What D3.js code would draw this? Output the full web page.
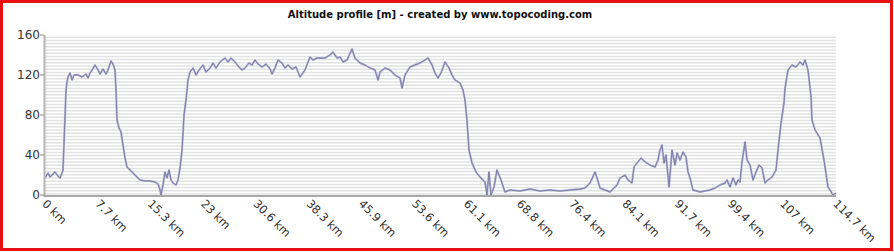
<!DOCTYPE html>
<html>
<head>
<meta charset="utf-8">
<script src="https://cdn.jsdelivr.net/npm/d3@7"></script>
<style>
  body { margin: 0; background: #fff; }
  text { font-family: "DejaVu Sans", sans-serif; }
</style>
</head>
<body>
<div id="display"></div>
<script>
// profile: distance [km], altitude [m]
const distKm = [0, 0.44, 0.73, 1.16, 1.45, 1.89, 2.18, 2.47, 2.61, 3.05, 3.19, 3.34, 3.63, 3.92, 4.21, 4.79, 5.37, 5.95, 6.24, 6.53,
  6.82, 7.25, 7.69, 7.98, 8.41, 8.85, 9.14, 9.57, 9.86, 10.15, 10.30, 10.44, 10.73, 11.02, 11.31, 11.60, 11.89, 12.33, 12.76, 13.34,
  13.78, 14.50, 15.23, 15.95, 16.39, 16.68, 16.82, 17.11, 17.40, 17.69, 17.98, 18.27, 18.56, 19.00, 19.29, 19.58, 19.87, 20.16, 20.45, 20.74,
  21.03, 21.46, 21.90, 22.33, 22.91, 23.35, 23.93, 24.36, 24.80, 25.38, 26.10, 26.54, 26.97, 27.55, 27.99, 28.57, 29.00, 29.58, 30.02, 30.45,
  30.89, 31.47, 32.05, 32.63, 32.92, 33.35, 33.79, 34.37, 34.80, 35.24, 35.82, 36.40, 36.98, 37.70, 38.43, 38.86, 39.44, 39.88, 40.60, 41.33,
  41.76, 42.34, 42.78, 43.21, 43.79, 44.52, 44.95, 45.68, 46.40, 47.13, 47.85, 48.29, 48.58, 49.30, 50.03, 50.75, 51.48, 51.77, 52.20, 52.93,
  53.65, 54.38, 55.10, 55.54, 56.12, 56.55, 56.99, 57.42, 58.00, 58.58, 59.02, 59.45, 60.18, 60.61, 60.90, 61.19, 61.48, 61.92, 62.50, 63.08,
  63.80, 64.09, 64.38, 64.67, 65.11, 65.54, 66.12, 66.70, 67.43, 68.88, 70.33, 71.78, 73.23, 74.68, 76.13, 77.58, 78.31, 79.03, 79.76, 80.05,
  80.48, 81.93, 82.95, 83.38, 84.11, 84.54, 85.12, 85.41, 85.85, 86.43, 87.01, 87.73, 88.46, 88.89, 89.18, 89.47, 89.76, 90.05, 90.49, 90.92,
  91.36, 91.65, 92.08, 92.52, 92.95, 93.24, 93.53, 93.97, 94.98, 96.43, 97.16, 97.88, 98.61, 98.90, 99.33, 99.77, 100.20, 100.49, 100.78, 101.07,
  101.51, 101.80, 102.23, 102.67, 103.10, 103.54, 103.97, 104.41, 104.84, 105.42, 106.00, 106.29, 106.73, 107.16, 107.31, 107.74, 108.32, 108.90, 109.48, 109.92,
  110.21, 110.64, 111.08, 111.22, 111.66, 112.38, 112.96, 113.54, 113.83, 114.27, 114.70];
const altM = [17, 22, 18, 21, 23, 19, 17, 22, 25, 105, 113, 118, 122, 115, 120, 120, 118, 121, 117, 122,
  125, 130, 125, 121, 126, 121, 125, 134, 131, 125, 105, 75, 67, 63, 50, 37, 28, 25, 22, 18,
  15, 14, 14, 13, 11, 5, 0, 10, 23, 17, 25, 15, 12, 10, 15, 27, 45, 80, 95, 115,
  123, 127, 120, 125, 130, 123, 127, 132, 127, 133, 137, 133, 137, 133, 129, 125, 127, 132, 130, 135,
  131, 128, 131, 126, 121, 127, 135, 132, 127, 130, 126, 128, 118, 125, 138, 135, 137, 137, 137, 140,
  143, 137, 138, 133, 135, 146, 137, 132, 130, 127, 125, 115, 123, 127, 125, 120, 117, 107, 120, 128,
  130, 132, 135, 137, 130, 122, 117, 122, 133, 127, 120, 115, 112, 105, 95, 75, 45, 32, 23, 18,
  13, 0, 23, 0, 8, 25, 15, 3, 5, 4, 6, 4, 5, 4, 5, 6, 7, 12, 23, 17,
  7, 3, 10, 17, 20, 15, 12, 28, 32, 37, 33, 30, 28, 35, 45, 50, 32, 40, 8, 45,
  30, 42, 35, 43, 38, 23, 17, 5, 3, 5, 7, 10, 12, 15, 8, 17, 10, 15, 13, 33,
  53, 35, 30, 15, 23, 30, 27, 12, 15, 18, 25, 45, 72, 92, 107, 125, 130, 128, 133, 130,
  135, 125, 98, 75, 65, 57, 35, 8, 5, 0, 2];

const xTicks = [0, 7.7, 15.3, 23, 30.6, 38.3, 45.9, 53.6, 61.1, 68.8, 76.4, 84.1, 91.7, 99.4, 107, 114.7];
const yTicks = [0, 40, 80, 120, 160];
const title = "Altitude profile [m] - created by www.topocoding.com";

const width = 894, height = 252;
const margin = {left: 45, right: 58, top: 35, bottom: 57};

const svg = d3.select('#display')
  .append('svg')
  .attr('width', width)
  .attr('height', height);

const x = d3.scaleLinear()
  .domain([0, 114.7])
  .range([margin.left, width - margin.right]);

const y = d3.scaleLinear()
  .domain([0, 160])
  .range([height - margin.bottom, margin.top]);

// striped background
svg.append('g')
  .selectAll('line')
  .data(d3.range(0, 160, 3.2))
  .join('line')
  .attr('x1', x(0))
  .attr('x2', x(114.7))
  .attr('y1', d => y(d) - 1)
  .attr('y2', d => y(d) - 1)
  .attr('stroke', '#e2e2e2')
  .attr('stroke-width', 1.5);

// profile
const line = d3.line()
  .x((d, i) => x(distKm[i]))
  .y(d => y(d));

svg.append('path')
  .datum(altM)
  .attr('d', line)
  .attr('fill', 'none')
  .attr('stroke', '#aeaed2')
  .attr('stroke-width', 2)
  .attr('stroke-linejoin', 'round');

svg.append('path')
  .datum(altM)
  .attr('d', line)
  .attr('fill', 'none')
  .attr('stroke', '#6c6c96')
  .attr('stroke-width', 0.7);

// axes
svg.append('line')
  .attr('x1', x(0) - 0.5).attr('x2', x(0) - 0.5)
  .attr('y1', y(160)).attr('y2', y(0) + 1)
  .attr('stroke', '#b4b4b4')
  .attr('stroke-width', 2);

svg.append('line')
  .attr('x1', x(0) - 1.5).attr('x2', x(114.7))
  .attr('y1', y(0) + 1).attr('y2', y(0) + 1)
  .attr('stroke', '#a8a8a8')
  .attr('stroke-width', 2);

const yAxis = svg.append('g');
yAxis.selectAll('line')
  .data(yTicks)
  .join('line')
  .attr('x1', x(0) - 5)
  .attr('x2', x(0) - 1)
  .attr('y1', d => y(d))
  .attr('y2', d => y(d))
  .attr('stroke', '#888');

yAxis.selectAll('text')
  .data(yTicks)
  .join('text')
  .attr('x', x(0) - 5)
  .attr('y', d => y(d))
  .attr('text-anchor', 'end')
  .attr('dominant-baseline', 'middle')
  .attr('font-size', '12px')
  .attr('fill', '#333')
  .text(d => d);

svg.append('g')
  .selectAll('text')
  .data(xTicks)
  .join('text')
  .attr('transform', d => `translate(${x(d) - 1}, ${y(0) + 7}) rotate(45)`)
  .attr('text-anchor', 'start')
  .attr('dominant-baseline', 'middle')
  .attr('font-size', '11.5px')
  .attr('fill', '#333')
  .text(d => `${d} km`);

svg.append('text')
  .attr('x', 440)
  .attr('y', 18)
  .attr('text-anchor', 'middle')
  .attr('font-size', '10px')
  .attr('font-weight', 'bold')
  .attr('fill', '#111')
  .text(title);

// red frame
svg.append('rect')
  .attr('x', 1.5)
  .attr('y', 1.5)
  .attr('width', width - 4)
  .attr('height', height - 4)
  .attr('fill', 'none')
  .attr('stroke', '#e81010')
  .attr('stroke-width', 3);
</script>
</body>
</html>
